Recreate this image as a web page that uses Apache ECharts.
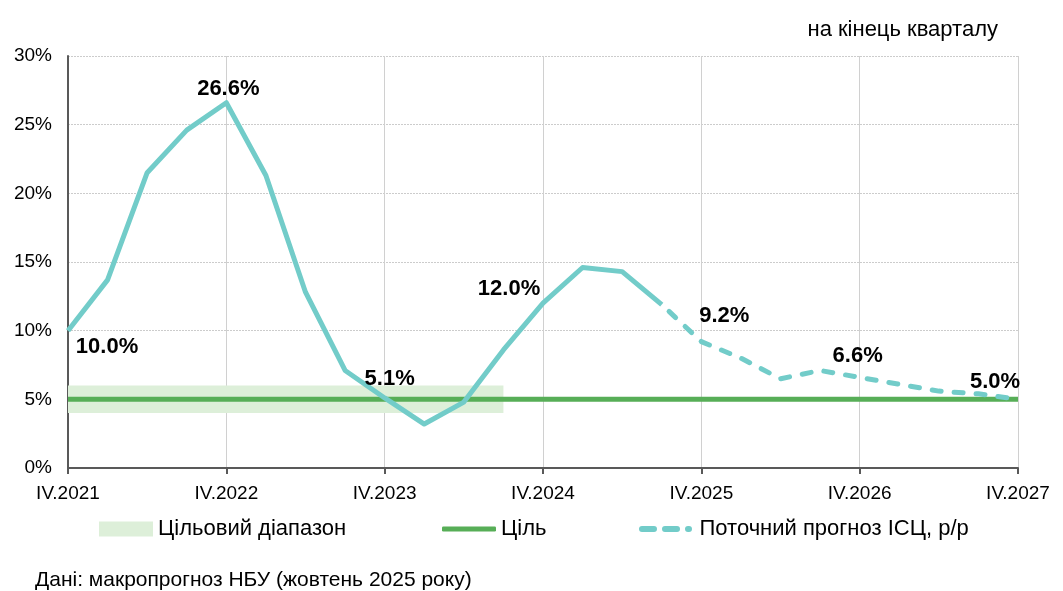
<!DOCTYPE html>
<html><head><meta charset="utf-8">
<script src="https://cdn.jsdelivr.net/npm/echarts@6/dist/echarts.min.js"></script>
<style>html,body{margin:0;padding:0;background:#fff}#c{width:1063px;height:591px}</style>
</head><body><div id="c"></div>
<script>
const categories = ['IV.2021','I.2022','II.2022','III.2022','IV.2022','I.2023','II.2023','III.2023','IV.2023','I.2024','II.2024','III.2024','IV.2024','I.2025','II.2025','III.2025','IV.2025','I.2026','II.2026','III.2026','IV.2026','I.2027','II.2027','III.2027','IV.2027'];
const actualCPI = [10.0,13.7,21.5,24.6,26.6,21.3,12.8,7.1,5.1,3.2,4.8,8.6,12.0,14.6,14.3,11.9];
const forecastCPI = [11.9,9.2,8.0,6.5,7.1,6.6,6.1,5.6,5.4,5.0]; // from III.2025
const forecastStart = 15;
const targetValue = 5;
const bandLow = 4, bandHigh = 6;
const bandEndIndex = 11;
const labelIdx = [0,4,8,12,16,20,24];
const yTicks = [0,5,10,15,20,25,30];

const teal = '#72CCC9', green = '#57AE57', band = '#DDEFD9';
const font = 'Liberation Sans';
const labelCfg = {
  0:{position:'bottom',offset:[39,-1]},
  4:{position:'top',offset:[2,3]},
  8:{position:'top',offset:[5,-2]},
  12:{position:'top',offset:[-34,3]},
  16:{position:'top',offset:[23,-9]},
  20:{position:'top',offset:[-2,-4]},
  24:{position:'top',offset:[-23,0]}
};
function lbl(i){
  const c = labelCfg[i];
  return {show:true,position:c.position,offset:c.offset,distance:6,fontFamily:font,fontWeight:'bold',fontSize:22,color:'#000',formatter:p=>p.value.toFixed(1)+'%'};
}
const actualData = categories.map((c,i)=>{
  if(i>=actualCPI.length) return null;
  const v = actualCPI[i];
  return (labelIdx.includes(i) && i<forecastStart) ? {value:v,label:lbl(i)} : v;
});
const forecastData = categories.map((c,i)=>{
  if(i<forecastStart) return null;
  const v = forecastCPI[i-forecastStart];
  return labelIdx.includes(i) ? {value:v,label:lbl(i)} : v;
});
const targetData = categories.map(()=>targetValue);

const chart = echarts.init(document.getElementById('c'),null,{renderer:'canvas'});
const legendText = {fontFamily:font,fontSize:22,color:'#000'};
chart.setOption({
  animation:false,
  textStyle:{fontFamily:font},
  title:[
    {text:'на кінець кварталу',right:60,top:14,textStyle:{fontFamily:font,fontWeight:'normal',fontSize:22,color:'#000'}},
    {text:'Дані: макропрогноз НБУ (жовтень 2025 року)',left:30,top:565,textStyle:{fontFamily:font,fontWeight:'normal',fontSize:21,color:'#000'}}
  ],
  grid:{left:68,right:45,top:56,bottom:123,containLabel:false},
  legend:[
    {left:94,top:513,itemWidth:54,itemHeight:15,itemGap:0,textStyle:legendText,
     data:[{name:'Цільовий діапазон',icon:'rect',itemStyle:{color:band}}]},
    {left:437,top:513,itemWidth:54,itemHeight:5,itemGap:0,textStyle:legendText,
     data:[{name:'Ціль',icon:'roundRect',itemStyle:{color:green}}]},
    {left:634,top:513,itemWidth:58,itemHeight:6,itemGap:0,textStyle:legendText,
     data:[{name:'Поточний прогноз ІСЦ, р/р',icon:'path://M3,0 H15 A3,3 0 0 1 15,6 H3 A3,3 0 0 1 3,0 Z M26,0 H38 A3,3 0 0 1 38,6 H26 A3,3 0 0 1 26,0 Z M49,0 H50 A3,3 0 0 1 50,6 H49 A3,3 0 0 1 49,0 Z',itemStyle:{color:teal}}]}
  ],
  xAxis:{
    type:'category',data:categories,boundaryGap:false,
    axisLine:{lineStyle:{color:'#595959',width:2}},
    axisTick:{show:true,interval:3,length:6,lineStyle:{color:'#595959',width:2}},
    axisLabel:{interval:3,fontFamily:font,fontSize:19,color:'#000',margin:16},
    splitLine:{show:true,interval:3,lineStyle:{color:'#d0d0d0',width:1}}
  },
  yAxis:{
    type:'value',min:0,max:30,interval:5,
    axisLine:{show:true,lineStyle:{color:'#595959',width:2}},
    axisTick:{show:false},
    axisLabel:{formatter:'{value}%',fontFamily:font,fontSize:19,color:'#000',margin:16},
    splitLine:{show:true,lineStyle:{color:'#cccccc',width:1,type:[2,1]}}
  },
  series:[
    {name:'Цільовий діапазон',type:'line',data:[],symbol:'none',z:1,
     itemStyle:{color:band},lineStyle:{color:band},
     markArea:{silent:true,itemStyle:{color:band},data:[[{xAxis:0,yAxis:bandLow},{xAxis:bandEndIndex,yAxis:bandHigh}]]}},
    {name:'Ціль',type:'line',data:targetData,symbol:'none',z:2,
     itemStyle:{color:green},lineStyle:{color:green,width:5}},
    {name:'actual',type:'line',data:actualData,symbol:'circle',symbolSize:0,showSymbol:true,z:3,
     itemStyle:{color:teal},lineStyle:{color:teal,width:5,join:'round'}},
    {name:'Поточний прогноз ІСЦ, р/р',type:'line',data:forecastData,symbol:'circle',symbolSize:0,showSymbol:true,z:3,
     itemStyle:{color:teal},lineStyle:{color:teal,width:5,type:[9,13],dashOffset:12,cap:'round'}}
  ]
});
</script></body></html>
